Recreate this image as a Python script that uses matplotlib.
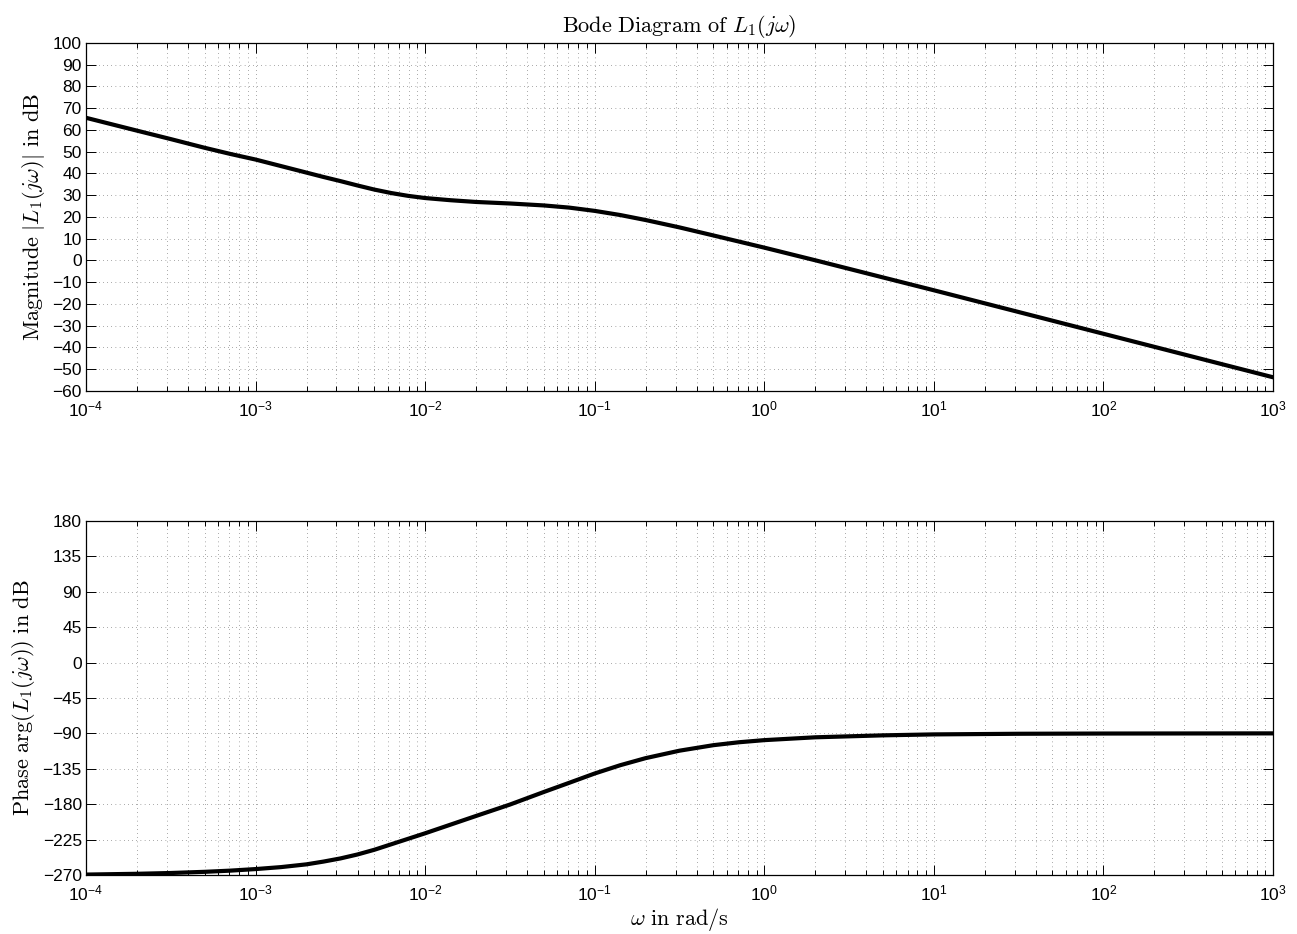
import numpy as np
import matplotlib
matplotlib.use("Agg")
import matplotlib.pyplot as plt
from matplotlib.ticker import LogLocator, FixedLocator, NullFormatter

plt.rcParams['font.family'] = ['Liberation Sans', 'DejaVu Sans']

# frequency response of L1(jw), read point by point (log10 of w in rad/s)
mag_logw = [-4.0, -3.7, -3.5, -3.3, -3.15, -3.0, -2.85, -2.7, -2.6, -2.5,
            -2.4, -2.3, -2.2, -2.1, -2.0, -1.85, -1.7, -1.5, -1.3, -1.15,
            -1.0, -0.85, -0.7, -0.5, -0.3, -0.15, 0.0, 0.3, 0.7, 1.0, 1.3,
            1.7, 2.0, 2.3, 2.7, 3.0]
mag_db = [65.6, 59.7, 55.8, 51.8, 49.0, 46.4, 43.4, 40.4, 38.4, 36.5,
          34.5, 32.6, 31.0, 29.7, 28.7, 27.7, 26.9, 26.2, 25.3, 24.3,
          22.8, 20.9, 18.6, 15.2, 11.5, 8.7, 5.9, 0.1, -7.8, -13.7, -19.7,
          -27.7, -33.7, -39.7, -47.7, -53.7]

phase_logw = [-4.0, -3.7, -3.5, -3.3, -3.15, -3.0, -2.85, -2.7, -2.6, -2.5,
              -2.4, -2.3, -2.2, -2.1, -2.0, -1.85, -1.7, -1.5, -1.3, -1.15,
              -1.0, -0.85, -0.7, -0.5, -0.3, -0.15, 0.0, 0.3, 0.7, 1.0, 1.5,
              2.0, 3.0]
phase_deg = [-269.5, -268.5, -267.5, -266.0, -264.5, -262.5, -260.0, -256.5,
             -253.0, -249.0, -244.0, -238.0, -231.0, -224.0, -217.0, -206.0,
             -195.0, -180.5, -164.5, -152.8, -141.0, -130.5, -121.5, -112.0,
             -105.0, -101.3, -98.6, -95.0, -92.5, -91.3, -90.5, -90.2, -90.0]

mag_ticks = list(range(-60, 101, 10))
phase_ticks = list(range(-270, 181, 45))
decades = [1e-4, 1e-3, 1e-2, 1e-1, 1e0, 1e1, 1e2, 1e3]
decade_labels = [r'$\mathregular{10^{%d}}$' % p for p in range(-4, 4)]

fig = plt.figure(figsize=(12.97, 9.34), dpi=100)
ax1 = fig.add_axes([0.0663, 0.5814, 0.9152, 0.3726])
ax2 = fig.add_axes([0.0663, 0.0632, 0.9152, 0.3790])


def style_axis(ax, yticks):
    ax.set_xscale('log')
    ax.set_xlim(1e-4, 1e3)
    ax.set_ylim(yticks[0], yticks[-1])
    ax.xaxis.set_major_locator(FixedLocator(decades))
    ax.set_xticklabels(decade_labels)
    ax.xaxis.set_minor_locator(LogLocator(base=10, subs=np.arange(2, 10), numticks=20))
    ax.xaxis.set_minor_formatter(NullFormatter())
    ax.set_yticks(yticks)
    ax.tick_params(which='both', direction='in', top=True, right=True,
                   labelsize=12.5, width=0.7)
    ax.tick_params(which='major', length=7)
    ax.tick_params(which='minor', length=3.5)
    ax.tick_params(axis='x', pad=6)
    ax.tick_params(axis='y', pad=3)
    for s in ax.spines.values():
        s.set_linewidth(0.9)
    ax.grid(True, which='major', axis='both', color='0.25', lw=0.6,
            dashes=(0.6, 4.4))
    ax.grid(True, which='minor', axis='x', color='0.25', lw=0.6,
            dashes=(0.6, 4.4))
    ax.set_axisbelow(True)


style_axis(ax1, mag_ticks)
style_axis(ax2, phase_ticks)

ax1.plot(10.0 ** np.array(mag_logw), mag_db, color='black', lw=3.0,
         solid_joinstyle='round')
ax2.plot(10.0 ** np.array(phase_logw), phase_deg, color='black', lw=3.0,
         solid_joinstyle='round')

ax1.set_title(r'$\mathrm{Bode\ Diagram\ of\ }L_1(j\omega)$',
              math_fontfamily='cm', fontsize=16, pad=8)
ax1.set_ylabel(r'$\mathrm{Magnitude}\ |L_1(j\omega)|\ \mathrm{in\ dB}$',
               math_fontfamily='cm', fontsize=16, labelpad=4)
ax2.set_ylabel(r'$\mathrm{Phase}\ \arg(L_1(j\omega))\ \mathrm{in\ dB}$',
               math_fontfamily='cm', fontsize=16, labelpad=4)
ax2.set_xlabel(r'$\omega\ \mathrm{in\ rad/s}$', math_fontfamily='cm',
               fontsize=16, labelpad=2)

fig.savefig('out.png', dpi=100)
